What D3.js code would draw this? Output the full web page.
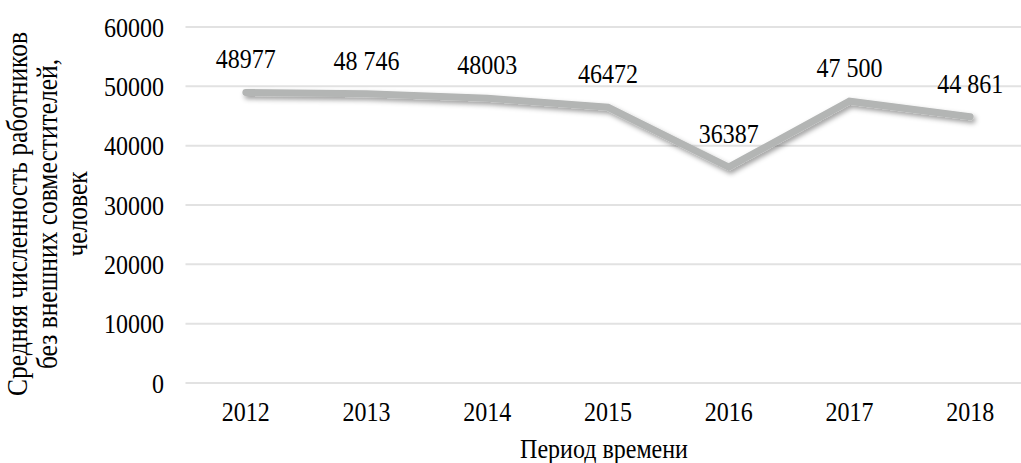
<!DOCTYPE html>
<html>
<head>
<meta charset="utf-8">
<script src="https://cdn.jsdelivr.net/npm/d3@7"></script>
<style>
    body { margin: 0; background: #fff; }
    text { font-family: "Liberation Serif", "Times New Roman", "DejaVu Serif", serif; fill: #000; }
</style>
</head>
<body>
<svg id="chart" width="1021" height="463"></svg>
<script>
// data
var years = ["2012", "2013", "2014", "2015", "2016", "2017", "2018"]
var workers = [48977, 48746, 48003, 46472, 36387, 47500, 44861]
var valueLabels = ["48977", "48 746", "48003", "46472", "36387", "47 500", "44 861"]
var yTicks = [0, 10000, 20000, 30000, 40000, 50000, 60000]

var W = 1021, H = 463
var plotLeft = 185.5, plotRight = 1030.5, plotTop = 27, plotBottom = 383
var stretch = "scale(1,1.16)" // source text is a bit taller than wide

var svg = d3.select("#chart")

var x = d3.scaleBand().domain(years).range([plotLeft, plotRight])
var y = d3.scaleLinear().domain([0, 60000]).range([plotBottom, plotTop])

// shadow under the line
var defs = svg.append("defs")
var f = defs.append("filter").attr("id", "shadow")
    .attr("x", "-5%").attr("y", "-20%").attr("width", "110%").attr("height", "160%")
f.append("feDropShadow")
    .attr("dx", 2).attr("dy", 3)
    .attr("stdDeviation", 2.4)
    .attr("flood-color", "#000")
    .attr("flood-opacity", 0.38)

// grid
svg.append("g").selectAll("line")
    .data(yTicks)
    .enter().append("line")
    .attr("x1", plotLeft).attr("x2", W)
    .attr("y1", function (d) { return y(d) })
    .attr("y2", function (d) { return y(d) })
    .attr("stroke", "#e2e2e2")
    .attr("stroke-width", 2)

// y tick labels
var yAxis = d3.axisLeft(y).tickValues(yTicks).tickSize(0).tickPadding(0)
    .tickFormat(function (d) { return String(d) })
var ya = svg.append("g").attr("transform", "translate(164,0)").call(yAxis)
ya.select(".domain").remove()
ya.attr("font-family", null)
ya.selectAll("text")
    .attr("font-size", "24px")
    .attr("x", 0)
    .attr("dy", "0.33em")
    .attr("transform", stretch)

// x tick labels
var xAxis = d3.axisBottom(x).tickSize(0).tickPadding(0)
var xa = svg.append("g").attr("transform", "translate(0,421)").call(xAxis)
xa.select(".domain").remove()
xa.attr("font-family", null)
xa.selectAll("text")
    .attr("font-size", "24px")
    .attr("y", 0)
    .attr("dy", 0)
    .attr("transform", stretch)

// line
var line = d3.line()
    .x(function (d, i) { return x(years[i]) + x.bandwidth() / 2 })
    .y(function (d) { return y(d) })

svg.append("path")
    .datum(workers)
    .attr("d", line)
    .attr("fill", "none")
    .attr("stroke", "#b3b5b4")
    .attr("stroke-width", 7)
    .attr("stroke-linecap", "round")
    .attr("stroke-linejoin", "miter")
    .attr("filter", "url(#shadow)")

// value labels
svg.append("g").selectAll("text")
    .data(workers)
    .enter().append("text")
    .attr("transform", function (d, i) {
        return "translate(" + (x(years[i]) + x.bandwidth() / 2) + "," + (y(d) - 24) + ") " + stretch
    })
    .attr("text-anchor", "middle")
    .attr("font-size", "24px")
    .text(function (d, i) { return valueLabels[i] })

// axis titles
svg.append("text")
    .attr("transform", "translate(604,458) " + stretch)
    .attr("text-anchor", "middle")
    .attr("font-size", "24px")
    .text("Период времени")

var yTitle = ["Средняя численность работников", "без внешних совместителей,", "человек"]
svg.append("g")
    .attr("transform", "translate(0,214) rotate(-90)")
    .selectAll("text")
    .data(yTitle)
    .enter().append("text")
    .attr("transform", function (d, i) { return "translate(0," + (27 + i * 30) + ") " + stretch })
    .attr("text-anchor", "middle")
    .attr("font-size", "25.5px")
    .text(function (d) { return d })
</script>
</body>
</html>
